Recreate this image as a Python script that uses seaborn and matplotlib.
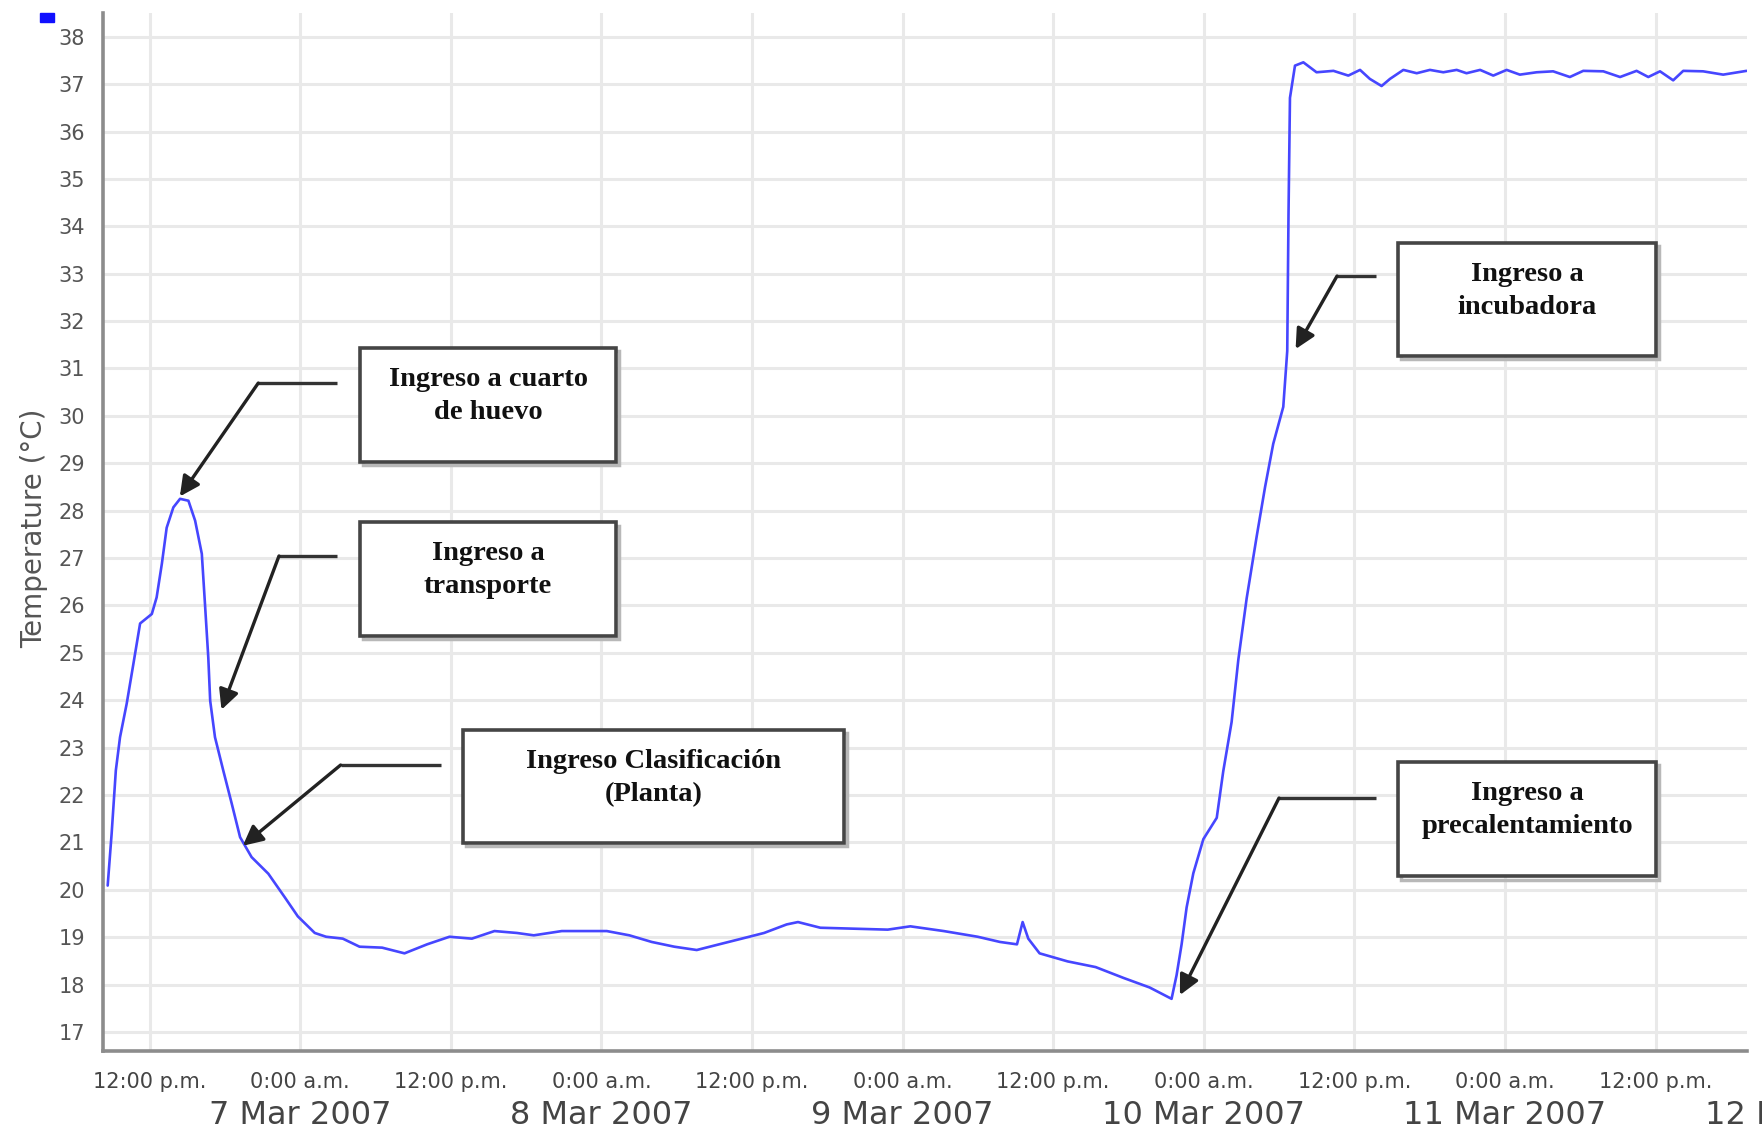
import matplotlib
matplotlib.use("Agg")
import numpy as np
import pandas as pd
import matplotlib.pyplot as plt
import matplotlib.dates as mdates
from matplotlib.patches import Rectangle
from matplotlib.ticker import MultipleLocator, FuncFormatter
import seaborn as sns

# ---------------- data ----------------
times = [
    "2007-03-06 08:40", "2007-03-06 08:59", "2007-03-06 09:19", "2007-03-06 09:39",
    "2007-03-06 10:11", "2007-03-06 10:43", "2007-03-06 11:15", "2007-03-06 12:11",
    "2007-03-06 12:34", "2007-03-06 12:59", "2007-03-06 13:22", "2007-03-06 13:54",
    "2007-03-06 14:26", "2007-03-06 15:06", "2007-03-06 15:38", "2007-03-06 16:10",
    "2007-03-06 16:25", "2007-03-06 16:41", "2007-03-06 16:50", "2007-03-06 17:13",
    "2007-03-06 17:53", "2007-03-06 18:33", "2007-03-06 19:13", "2007-03-06 20:08",
    "2007-03-06 21:28", "2007-03-06 22:47", "2007-03-06 23:49", "2007-03-07 01:10",
    "2007-03-07 02:04", "2007-03-07 03:24", "2007-03-07 04:44", "2007-03-07 06:32",
    "2007-03-07 08:19", "2007-03-07 10:07", "2007-03-07 11:54", "2007-03-07 13:41",
    "2007-03-07 15:29", "2007-03-07 17:16", "2007-03-07 18:37", "2007-03-07 20:51",
    "2007-03-08 00:26", "2007-03-08 02:14", "2007-03-08 04:01", "2007-03-08 05:49",
    "2007-03-08 07:36", "2007-03-08 09:23", "2007-03-08 11:11", "2007-03-08 12:58",
    "2007-03-08 14:46", "2007-03-08 15:40", "2007-03-08 17:27", "2007-03-08 20:08",
    "2007-03-08 22:49", "2007-03-09 00:37", "2007-03-09 03:17", "2007-03-09 05:59",
    "2007-03-09 07:46", "2007-03-09 09:07", "2007-03-09 09:34", "2007-03-09 10:01",
    "2007-03-09 10:55", "2007-03-09 13:09", "2007-03-09 15:23", "2007-03-09 17:37",
    "2007-03-09 19:41", "2007-03-09 21:26", "2007-03-09 21:50", "2007-03-09 22:14",
    "2007-03-09 22:38", "2007-03-09 23:10", "2007-03-09 23:58", "2007-03-10 01:02",
    "2007-03-10 01:33", "2007-03-10 02:13", "2007-03-10 02:45", "2007-03-10 03:25",
    "2007-03-10 04:13", "2007-03-10 04:53", "2007-03-10 05:32", "2007-03-10 06:20",
    "2007-03-10 06:39", "2007-03-10 06:45", "2007-03-10 06:52", "2007-03-10 07:16",
    "2007-03-10 07:56", "2007-03-10 08:59", "2007-03-10 10:20", "2007-03-10 11:31",
    "2007-03-10 12:27", "2007-03-10 13:14", "2007-03-10 14:10", "2007-03-10 14:50",
    "2007-03-10 15:54", "2007-03-10 16:58", "2007-03-10 18:01", "2007-03-10 19:05",
    "2007-03-10 20:09", "2007-03-10 20:56", "2007-03-10 22:01", "2007-03-10 23:04",
    "2007-03-11 00:08", "2007-03-11 01:11", "2007-03-11 02:31", "2007-03-11 03:50",
    "2007-03-11 05:10", "2007-03-11 06:14", "2007-03-11 07:50", "2007-03-11 09:10",
    "2007-03-11 10:29", "2007-03-11 11:25", "2007-03-11 12:21", "2007-03-11 13:24",
    "2007-03-11 14:12", "2007-03-11 15:47", "2007-03-11 17:23", "2007-03-11 19:15",
]
temps = [
    20.09, 21.19, 22.52, 23.22, 23.93, 24.77, 25.62, 25.82,
    26.17, 26.88, 27.64, 28.07, 28.25, 28.21, 27.79, 27.09,
    26.04, 24.90, 23.99, 23.22, 22.51, 21.82, 21.11, 20.69,
    20.34, 19.84, 19.44, 19.09, 19.01, 18.97, 18.80, 18.78,
    18.66, 18.85, 19.01, 18.97, 19.13, 19.09, 19.04, 19.13,
    19.13, 19.04, 18.90, 18.80, 18.73, 18.85, 18.97, 19.09,
    19.27, 19.32, 19.20, 19.18, 19.16, 19.23, 19.13, 19.01,
    18.90, 18.85, 19.32, 18.97, 18.66, 18.49, 18.37, 18.14,
    17.94, 17.70, 18.20, 18.85, 19.63, 20.35, 21.07, 21.52,
    22.50, 23.54, 24.85, 26.15, 27.46, 28.50, 29.41, 30.19,
    31.37, 34.24, 36.71, 37.39, 37.46, 37.25, 37.28, 37.18,
    37.30, 37.11, 36.96, 37.11, 37.30, 37.23, 37.30, 37.25,
    37.30, 37.23, 37.30, 37.18, 37.30, 37.20, 37.25, 37.27,
    37.15, 37.28, 37.27, 37.15, 37.28, 37.15, 37.27, 37.08,
    37.28, 37.27, 37.20, 37.28,
]

y_ticks = list(range(17, 39))
x_limits = ["2007-03-06 08:18", "2007-03-11 19:17"]
y_limits = [16.6, 38.5]

date_labels = ["7 Mar 2007", "8 Mar 2007", "9 Mar 2007", "10 Mar 2007",
               "11 Mar 2007", "12 Mar 2007"]
date_positions = ["2007-03-07", "2007-03-08", "2007-03-09", "2007-03-10",
                  "2007-03-11", "2007-03-12"]

note_texts = ["Ingreso a cuarto\nde huevo", "Ingreso a\ntransporte",
              "Ingreso Clasificación\n(Planta)", "Ingreso a\nincubadora",
              "Ingreso a\nprecalentamiento"]
note_times = ["2007-03-06 14:25", "2007-03-06 17:44", "2007-03-06 19:26",
              "2007-03-10 07:19", "2007-03-09 22:06"]
note_temps = [28.3, 23.8, 20.93, 31.41, 17.78]

# ---------------- figure ----------------
sns.set_style("white")
plt.rcParams["font.family"] = ["DejaVu Sans"]

df = pd.DataFrame({"time": pd.to_datetime(times), "temp": temps})

fig = plt.figure(figsize=(17.62, 11.33), dpi=100)
ax = fig.add_axes([0.0585, 0.0724, 0.933, 0.9161])

sns.lineplot(data=df, x="time", y="temp", ax=ax, color="#4646ff",
             linewidth=1.9, zorder=3)

ax.set_xlim(pd.to_datetime(x_limits[0]), pd.to_datetime(x_limits[1]))
ax.set_ylim(*y_limits)
ax.set_xlabel("")
ax.set_ylabel("")

# y axis
ax.set_yticks(y_ticks)
ax.yaxis.set_minor_locator(MultipleLocator(0.5))
ax.tick_params(axis="y", which="major", length=12, width=1.6, color="#666",
               labelsize=15, labelcolor="#555", pad=1)
ax.tick_params(axis="y", which="minor", length=5, width=2.2, color="#333")

# x axis
ax.xaxis.set_major_locator(mdates.HourLocator(byhour=[0, 12]))
ax.xaxis.set_minor_locator(mdates.HourLocator(byhour=[3, 6, 9, 15, 18, 21]))


def fmt(x, pos):
    d = mdates.num2date(x)
    return "12:00 p.m." if d.hour == 12 else "0:00 a.m."


ax.xaxis.set_major_formatter(FuncFormatter(fmt))
ax.tick_params(axis="x", which="major", length=11, width=1.6, color="#666",
               labelsize=15, labelcolor="#444", pad=4)
ax.tick_params(axis="x", which="minor", length=5, width=1.6, color="#666")

ax.grid(True, which="major", color="#e9e9e9", linewidth=2.2, zorder=0)
ax.set_axisbelow(True)

for s in ["top", "right"]:
    ax.spines[s].set_visible(False)
for s in ["left", "bottom"]:
    ax.spines[s].set_color("#8c8c8c")
    ax.spines[s].set_linewidth(2.6)

# date labels under the time labels (the last one runs off the edge, as in the original)
for lab, pos in zip(date_labels, date_positions):
    ax.text(pd.to_datetime(pos), -0.062, lab, transform=ax.get_xaxis_transform(),
            ha="center", va="center", fontsize=23, color="#444", clip_on=False)

fig.text(0.0193, 0.534, "Temperature (°C)", rotation=90, ha="center",
         va="center", fontsize=20, color="#555")

# small blue marker at top-left
fig.patches.append(Rectangle((0.0227, 0.9806), 0.0079, 0.0079,
                             transform=fig.transFigure, color="#1010ff"))

# ---------------- annotations ----------------
boxes = [  # x0, x1, y_bottom, y_top in axes fraction
    (0.1563, 0.3120, 0.5674, 0.6773),
    (0.1563, 0.3120, 0.3998, 0.5092),
    (0.2190, 0.4507, 0.2004, 0.3092),
    (0.7877, 0.9447, 0.6696, 0.7784),
    (0.7877, 0.9447, 0.1681, 0.2784),
]
leaders = [  # corner x, line end x, y
    (0.0944, 0.1423, 0.6435),
    (0.1070, 0.1423, 0.4769),
    (0.1445, 0.2053, 0.2755),
    (0.7506, 0.7746, 0.7466),
    (0.7153, 0.7746, 0.2437),
]
serif = ["Liberation Serif", "DejaVu Serif"]
for txt, t, v, b, l in zip(note_texts, note_times, note_temps, boxes, leaders):
    x0, x1, y0, y1 = b
    ax.add_patch(Rectangle((x0 + 0.002, y0 - 0.003), x1 - x0, y1 - y0,
                           transform=ax.transAxes, facecolor="none",
                           edgecolor="#b8b8b8", linewidth=2.5, zorder=5))
    ax.add_patch(Rectangle((x0, y0), x1 - x0, y1 - y0, transform=ax.transAxes,
                           facecolor="white", edgecolor="#454545",
                           linewidth=2.6, zorder=6))
    ax.text((x0 + x1) / 2, y1 - 0.046, txt, transform=ax.transAxes,
            ha="center", va="center", fontsize=20.5, fontweight="bold",
            family=serif, color="#111", linespacing=1.42, zorder=7)
    cx, ex, ly = l
    ax.plot([cx, ex], [ly, ly], transform=ax.transAxes, color="#333",
            linewidth=2.4, solid_capstyle="butt", zorder=6)
    ax.annotate("", xy=(pd.to_datetime(t), v), xycoords="data",
                xytext=(cx, ly), textcoords="axes fraction",
                arrowprops=dict(arrowstyle="-|>", color="#222", lw=2.4,
                                mutation_scale=30, shrinkA=0, shrinkB=0),
                zorder=6)

fig.savefig("out.png", dpi=100, facecolor="white")
